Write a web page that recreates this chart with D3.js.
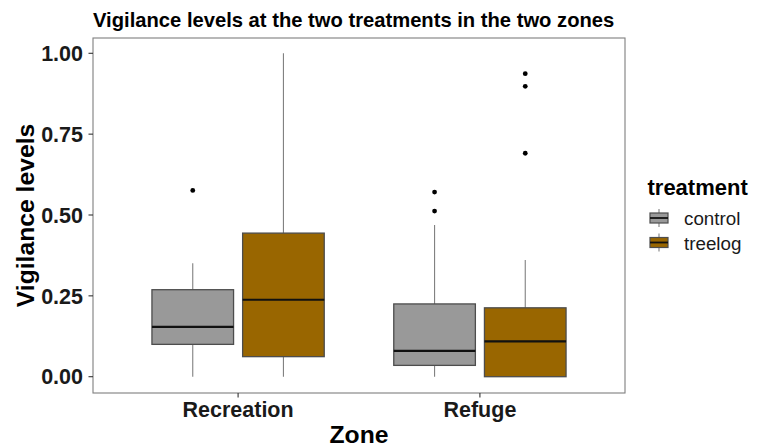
<!DOCTYPE html>
<html>
<head>
<meta charset="utf-8">
<script src="https://cdn.jsdelivr.net/npm/d3@7"></script>
<style>
  html, body { margin: 0; padding: 0; background: #fff; }
  svg { display: block; font-family: "Liberation Sans", Arial, sans-serif; }
</style>
</head>
<body>
<svg id="chart" width="758" height="448"></svg>
<script>
// Zones on the x axis and the two treatments dodged within each zone
const zones = ["Recreation", "Refuge"];
const treatments = ["control", "treelog"];
const treatmentColors = ["#999999", "#996600"];

// Five-number summaries per zone, in treatment order: [min, q1, median, q3, max]
const recreationStats = [
  [0.00, 0.100, 0.154, 0.269, 0.351],
  [0.00, 0.062, 0.238, 0.444, 1.000]
];
const refugeStats = [
  [0.00, 0.035, 0.080, 0.225, 0.469],
  [0.00, 0.000, 0.109, 0.213, 0.361]
];
// Outlying points per zone, in treatment order
const recreationOutliers = [[0.576], []];
const refugeOutliers = [[0.571, 0.512], [0.937, 0.898, 0.691]];

const yTicks = [0, 0.25, 0.5, 0.75, 1.0];

const statsByZone = [recreationStats, refugeStats];
const outliersByZone = [recreationOutliers, refugeOutliers];

const svg = d3.select("#chart");
const panel = { left: 93, right: 625, top: 38, bottom: 393 };

// Discrete axis with ggplot-style 0.6 expansion on each side
const xCont = d3.scaleLinear()
  .domain([1 - 0.6, zones.length + 0.6])
  .range([panel.left, panel.right]);
const y = d3.scaleLinear()
  .domain([-0.05, 1.05])
  .range([panel.bottom, panel.top]);
// Precise y domain from the axis positions
y.domain([0 - (panel.bottom - 376.7) / 323.4, 1 + (53.3 - panel.top) / 323.4]);

const dodge = 0.75;
const slot = dodge / treatments.length;
const boxW = slot * 0.9;

// Panel border
svg.append("rect")
  .attr("x", panel.left).attr("y", panel.top)
  .attr("width", panel.right - panel.left)
  .attr("height", panel.bottom - panel.top)
  .attr("fill", "#fff").attr("stroke", "#7f7f7f").attr("stroke-width", 1.1);

const g = svg.append("g");

zones.forEach((zone, zi) => {
  treatments.forEach((tr, ti) => {
    const s = statsByZone[zi][ti];
    const cx = (zi + 1) - dodge / 2 + slot * (ti + 0.5);
    const xc = xCont(cx);
    const x0 = xCont(cx - boxW / 2), x1 = xCont(cx + boxW / 2);
    // whiskers
    g.append("line").attr("x1", xc).attr("x2", xc)
      .attr("y1", y(s[3])).attr("y2", y(s[4]))
      .attr("stroke", "#808080").attr("stroke-width", 1.1);
    g.append("line").attr("x1", xc).attr("x2", xc)
      .attr("y1", y(s[1])).attr("y2", y(s[0]))
      .attr("stroke", "#808080").attr("stroke-width", 1.1);
    // box
    g.append("rect")
      .attr("x", x0).attr("y", y(s[3]))
      .attr("width", x1 - x0).attr("height", y(s[1]) - y(s[3]))
      .attr("fill", treatmentColors[ti])
      .attr("stroke", "#4d4d4d").attr("stroke-width", 1.3);
    // median
    g.append("line").attr("x1", x0).attr("x2", x1)
      .attr("y1", y(s[2])).attr("y2", y(s[2]))
      .attr("stroke", "#111").attr("stroke-width", 2.2);
    // outliers
    outliersByZone[zi][ti].forEach(v => {
      g.append("circle").attr("cx", xc).attr("cy", y(v))
        .attr("r", 2.4).attr("fill", "#000");
    });
  });
});

// Y axis ticks and labels
const yAxis = svg.append("g");
yTicks.forEach(t => {
  yAxis.append("line")
    .attr("x1", panel.left - 4.5).attr("x2", panel.left)
    .attr("y1", y(t)).attr("y2", y(t))
    .attr("stroke", "#333").attr("stroke-width", 1.1);
  yAxis.append("text")
    .attr("x", panel.left - 10).attr("y", y(t))
    .attr("dy", "0.36em")
    .attr("text-anchor", "end")
    .attr("font-size", 21.5).attr("font-weight", "bold").attr("fill", "#1a1a1a")
    .text(d3.format(".2f")(t));
});

// X axis ticks and labels
const xAxis = svg.append("g");
zones.forEach((z, i) => {
  const xx = xCont(i + 1);
  xAxis.append("line")
    .attr("x1", xx).attr("x2", xx)
    .attr("y1", panel.bottom).attr("y2", panel.bottom + 4.5)
    .attr("stroke", "#333").attr("stroke-width", 1.1);
  xAxis.append("text")
    .attr("x", xx).attr("y", 416.7)
    .attr("text-anchor", "middle")
    .attr("font-size", 21.5).attr("font-weight", "bold").attr("fill", "#1a1a1a")
    .text(z);
});

// Titles
svg.append("text")
  .attr("x", panel.left).attr("y", 26.5)
  .attr("font-size", 20.2).attr("font-weight", "bold").attr("fill", "#000")
  .text("Vigilance levels at the two treatments in the two zones");

svg.append("text")
  .attr("x", (panel.left + panel.right) / 2).attr("y", 443.3)
  .attr("text-anchor", "middle")
  .attr("font-size", 24.7).attr("font-weight", "bold").attr("fill", "#000")
  .text("Zone");

svg.append("text")
  .attr("transform", `translate(33.5, ${(panel.top + panel.bottom) / 2}) rotate(-90)`)
  .attr("text-anchor", "middle")
  .attr("font-size", 24.7).attr("font-weight", "bold").attr("fill", "#000")
  .text("Vigilance levels");

// Legend
const legend = svg.append("g");
legend.append("text")
  .attr("x", 647.5).attr("y", 195)
  .attr("font-size", 22).attr("font-weight", "bold").attr("fill", "#000")
  .text("treatment");

treatments.forEach((tr, i) => {
  const cy = 218 + i * 24.5;
  const kx = 659;
  legend.append("line").attr("x1", kx).attr("x2", kx)
    .attr("y1", cy - 9).attr("y2", cy + 9)
    .attr("stroke", "#808080").attr("stroke-width", 1.1);
  legend.append("rect")
    .attr("x", kx - 9).attr("y", cy - 5)
    .attr("width", 18).attr("height", 10)
    .attr("fill", treatmentColors[i])
    .attr("stroke", "#4d4d4d").attr("stroke-width", 1.2);
  legend.append("line").attr("x1", kx - 9).attr("x2", kx + 9)
    .attr("y1", cy).attr("y2", cy)
    .attr("stroke", "#111").attr("stroke-width", 1.8);
  legend.append("text")
    .attr("x", 684).attr("y", cy + 7)
    .attr("font-size", 18.8).attr("fill", "#1a1a1a")
    .text(tr);
});
</script>
</body>
</html>
